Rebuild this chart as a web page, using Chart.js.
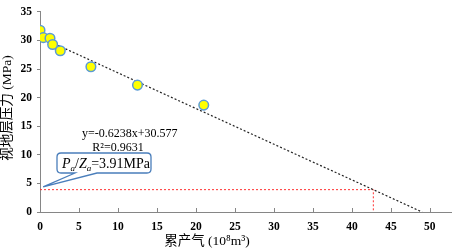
<!DOCTYPE html>
<html><head><meta charset="utf-8">
<script src="https://cdn.jsdelivr.net/npm/chart.js@4/dist/chart.umd.min.js"></script>
<style>html,body{margin:0;padding:0;background:#fff}#wrap{width:458px;height:252px;position:relative}</style>
</head><body><div id="wrap"><canvas id="c" width="458" height="252"></canvas></div>
<script>
const cumGas = [0, 0.42, 1.28, 1.62, 2.6, 6.53, 12.5, 21.0];
const pressure = [31.8, 30.5, 30.4, 29.3, 28.2, 25.4, 22.2, 18.7];
const trendX = [0, 49.0];
const trendY = [30.577, 0.0];
const abandonX = [0, 42.75, 42.75];
const abandonY = [3.91, 3.91, 0];
const xTicks = [0, 5, 10, 15, 20, 25, 30, 35, 40, 45, 50];
const yTicks = [0, 5, 10, 15, 20, 25, 30, 35];
const eqText = 'y=-0.6238x+30.577';
const r2Text = 'R²=0.9631';
const yTitle = '视地层压力 (MPa)';
const xTitle = '累产气 (10⁸m³)';

const toXY = (xs, ys) => xs.map((x, i) => ({x, y: ys[i]}));
const SERIF = "'Liberation Serif','Times New Roman',serif";

const decor = {
  id: 'decor',
  afterDatasetsDraw(chart) {
    const ctx = chart.ctx, xs = chart.scales.x, ys = chart.scales.y;
    ctx.save();
    // inner x ticks
    ctx.strokeStyle = '#868686'; ctx.lineWidth = 1;
    const yb = ys.getPixelForValue(0);
    xTicks.forEach(v => { if (v === 0) return; const px = Math.round(xs.getPixelForValue(v)) + 0.5;
      ctx.beginPath(); ctx.moveTo(px, yb); ctx.lineTo(px, yb - 4); ctx.stroke(); });
    // equation text
    ctx.fillStyle = '#000'; ctx.textAlign = 'center'; ctx.textBaseline = 'middle';
    ctx.font = '12px ' + SERIF;
    ctx.fillText(eqText, xs.getPixelForValue(11.5), ys.getPixelForValue(13.6));
    ctx.fillText(r2Text, xs.getPixelForValue(10.0), ys.getPixelForValue(11.2));
    // callout
    const bx = 57, by = 153, bw = 94, bh = 20, r = 4;
    const tipX = xs.getPixelForValue(0.4), tipY = ys.getPixelForValue(4.4);
    ctx.beginPath();
    ctx.moveTo(bx + r, by);
    ctx.lineTo(bx + bw - r, by); ctx.quadraticCurveTo(bx + bw, by, bx + bw, by + r);
    ctx.lineTo(bx + bw, by + bh - r); ctx.quadraticCurveTo(bx + bw, by + bh, bx + bw - r, by + bh);
    ctx.lineTo(97, by + bh); ctx.lineTo(tipX, tipY); ctx.lineTo(75, by + bh);
    ctx.lineTo(bx + r, by + bh); ctx.quadraticCurveTo(bx, by + bh, bx, by + bh - r);
    ctx.lineTo(bx, by + r); ctx.quadraticCurveTo(bx, by, bx + r, by);
    ctx.closePath();
    ctx.fillStyle = '#fff'; ctx.fill();
    ctx.strokeStyle = '#4a7ebb'; ctx.lineWidth = 1.3; ctx.stroke();
    // callout text Pa/Za=3.91MPa
    ctx.fillStyle = '#000'; ctx.textAlign = 'left'; ctx.textBaseline = 'alphabetic';
    let x = 62; const base = 168;
    const seg = (t, f, dy) => { ctx.font = f; ctx.fillText(t, x, base + (dy || 0)); x += ctx.measureText(t).width; };
    seg('P', 'italic 14px ' + SERIF);
    seg('a', 'italic 9px ' + SERIF, 3);
    seg('/', '14px ' + SERIF);
    seg('Z', 'italic 14px ' + SERIF);
    seg('a', 'italic 9px ' + SERIF, 3);
    seg('=3.91MPa', '14px ' + SERIF);
    // axis titles
    ctx.font = '13.5px ' + SERIF + ",'Noto Sans CJK SC'";
    ctx.textAlign = 'center'; ctx.textBaseline = 'middle';
    ctx.save(); ctx.translate(7, 108); ctx.rotate(-Math.PI / 2); ctx.fillText(yTitle, 0, 0); ctx.restore();
    ctx.fillText(xTitle, 207, 241);
    ctx.restore();
  }
};

new Chart(document.getElementById('c'), {
  type: 'scatter',
  data: { datasets: [
    { data: toXY(cumGas, pressure), backgroundColor: '#ffff00', borderColor: '#5b9bd5', borderWidth: 1.5, pointRadius: 4.8, order: 1 },
    { type: 'line', data: toXY(trendX, trendY), borderColor: '#222', borderWidth: 1.2, borderDash: [2, 2], pointRadius: 0, fill: false, order: 2 },
    { type: 'line', data: toXY(abandonX, abandonY), borderColor: '#ff3030', borderWidth: 1, borderDash: [2, 2], pointRadius: 0, fill: false, order: 3 }
  ]},
  plugins: [decor],
  options: {
    responsive: false, animation: false, events: [],
    layout: { padding: { top: 10, right: 4, left: 0, bottom: 0 } },
    plugins: { legend: { display: false }, tooltip: { enabled: false } },
    scales: {
      x: { type: 'linear', min: 0, max: 52.8,
        afterBuildTicks: s => { s.ticks = xTicks.map(v => ({ value: v })); },
        afterFit: s => { s.height = 40; },
        grid: { display: false, drawTicks: false },
        border: { color: '#868686', width: 1 },
        ticks: { padding: 8, color: '#000', font: { family: SERIF, size: 11.5, weight: 'bold' }, maxRotation: 0 } },
      y: { min: 0, max: 35,
        afterBuildTicks: s => { s.ticks = yTicks.map(v => ({ value: v })); },
        afterFit: s => { s.width = 40; },
        grid: { drawOnChartArea: false, tickLength: 3, color: '#868686' },
        border: { color: '#868686', width: 1 },
        ticks: { padding: 5, color: '#000', font: { family: SERIF, size: 11.5, weight: 'bold' } } }
    }
  }
});
</script></body></html>
